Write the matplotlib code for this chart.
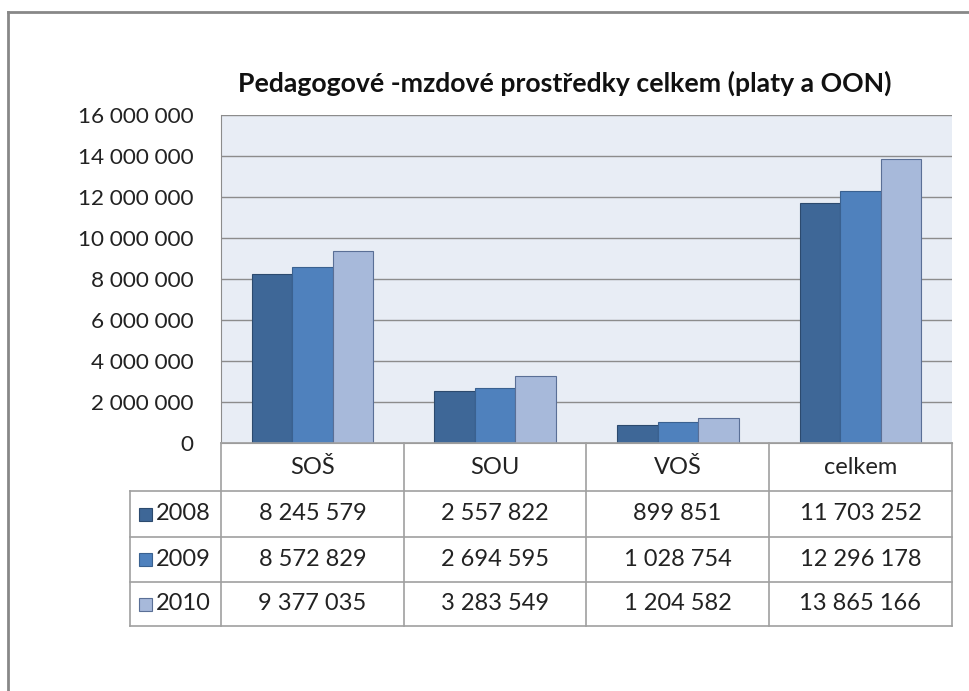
import matplotlib
matplotlib.use("Agg")
import matplotlib.pyplot as plt
from matplotlib.lines import Line2D
from matplotlib.patches import Rectangle
import numpy as np

categories = ["SOŠ", "SOU", "VOŠ", "celkem"]
years = ["2008", "2009", "2010"]
v2008 = [8245579, 2557822, 899851, 11703252]
v2009 = [8572829, 2694595, 1028754, 12296178]
v2010 = [9377035, 3283549, 1204582, 13865166]
series = [v2008, v2009, v2010]
colors = ["#3E6797", "#4F81BD", "#A7B9DA"]
edges = ["#2C4A6E", "#3A6190", "#5A6F96"]
yticks = [0, 2000000, 4000000, 6000000, 8000000, 10000000, 12000000, 14000000, 16000000]
title = "Pedagogové -mzdové prostředky celkem (platy a OON)"

W, H = 970, 691
FONT = "Lato"
plt.rcParams['font.family'] = [FONT, 'DejaVu Sans']

def fmt(v):
    return f"{v:,}".replace(",", " ")

fig = plt.figure(figsize=(W/100, H/100), dpi=100)
fig.patch.set_facecolor("white")

def fx(px):
    return px / W

def fy(py):
    return 1 - py / H

# outer frame (clipped)
fig.add_artist(Line2D([fx(8), fx(8)], [fy(12), fy(700)], color="#888888", lw=2, transform=fig.transFigure))
fig.add_artist(Line2D([fx(8), fx(975)], [fy(12), fy(12)], color="#888888", lw=2, transform=fig.transFigure))

left, right, top, bottom = 221, 952, 115, 443
ax = fig.add_axes([fx(left), fy(bottom), fx(right - left), (bottom - top) / H])
ax.set_facecolor("#E8EDF5")
ax.set_ylim(0, 16000000)
ax.set_xlim(-0.5, len(categories) - 0.5)
ax.set_yticks(yticks)
ax.set_yticklabels([fmt(t) for t in yticks], fontsize=16.2, color="#222222")
ax.tick_params(axis="y", length=0, pad=20)
ax.set_xticks([])
ax.grid(axis="y", color="#8C8C8C", lw=1)
ax.set_axisbelow(True)
for s in ["top", "right"]:
    ax.spines[s].set_visible(False)
ax.spines["left"].set_color("#8C8C8C")
ax.spines["bottom"].set_color("#8C8C8C")

x = np.arange(len(categories))
bw = 0.222
for i, (vals, c, ec) in enumerate(zip(series, colors, edges)):
    ax.bar(x + (i - 1) * bw, vals, width=bw, color=c, edgecolor=ec, linewidth=0.8, zorder=3)

fig.text(fx(565), fy(83), title, fontsize=19.2, fontweight="bold", ha="center", va="center", color="#111111")

# data table
col_x = [130, 221, 404, 586, 769, 952]
row_y = [443, 491, 537, 582, 626]
lc = "#A0A0A0"
def hline(x0, x1, y):
    fig.add_artist(Line2D([fx(x0), fx(x1)], [fy(y), fy(y)], color=lc, lw=1.2, transform=fig.transFigure))
def vline(x0, y0, y1):
    fig.add_artist(Line2D([fx(x0), fx(x0)], [fy(y0), fy(y1)], color=lc, lw=1.2, transform=fig.transFigure))

hline(col_x[1], col_x[-1], row_y[0])
for y in row_y[1:]:
    hline(col_x[0], col_x[-1], y)
vline(col_x[0], row_y[1], row_y[-1])
for cx in col_x[1:]:
    vline(cx, row_y[0], row_y[-1])

TS = 17
for j, cat in enumerate(categories):
    cxm = (col_x[j + 1] + col_x[j + 2]) / 2
    fig.text(fx(cxm), fy((row_y[0] + row_y[1]) / 2), cat, fontsize=TS, ha="center", va="center", color="#222222")
    for i, vals in enumerate(series):
        fig.text(fx(cxm), fy((row_y[i + 1] + row_y[i + 2]) / 2), fmt(vals[j]), fontsize=TS,
                 ha="center", va="center", color="#222222")

for i, (yr, c, ec) in enumerate(zip(years, colors, edges)):
    ym = (row_y[i + 1] + row_y[i + 2]) / 2
    sq = 13
    fig.add_artist(Rectangle((fx(139), fy(ym + sq / 2)), fx(sq), sq / H, facecolor=c, edgecolor=ec,
                             lw=0.8, transform=fig.transFigure))
    fig.text(fx(156), fy(ym), yr, fontsize=TS, ha="left", va="center", color="#222222")

fig.savefig("out.png", dpi=100, facecolor="white")
